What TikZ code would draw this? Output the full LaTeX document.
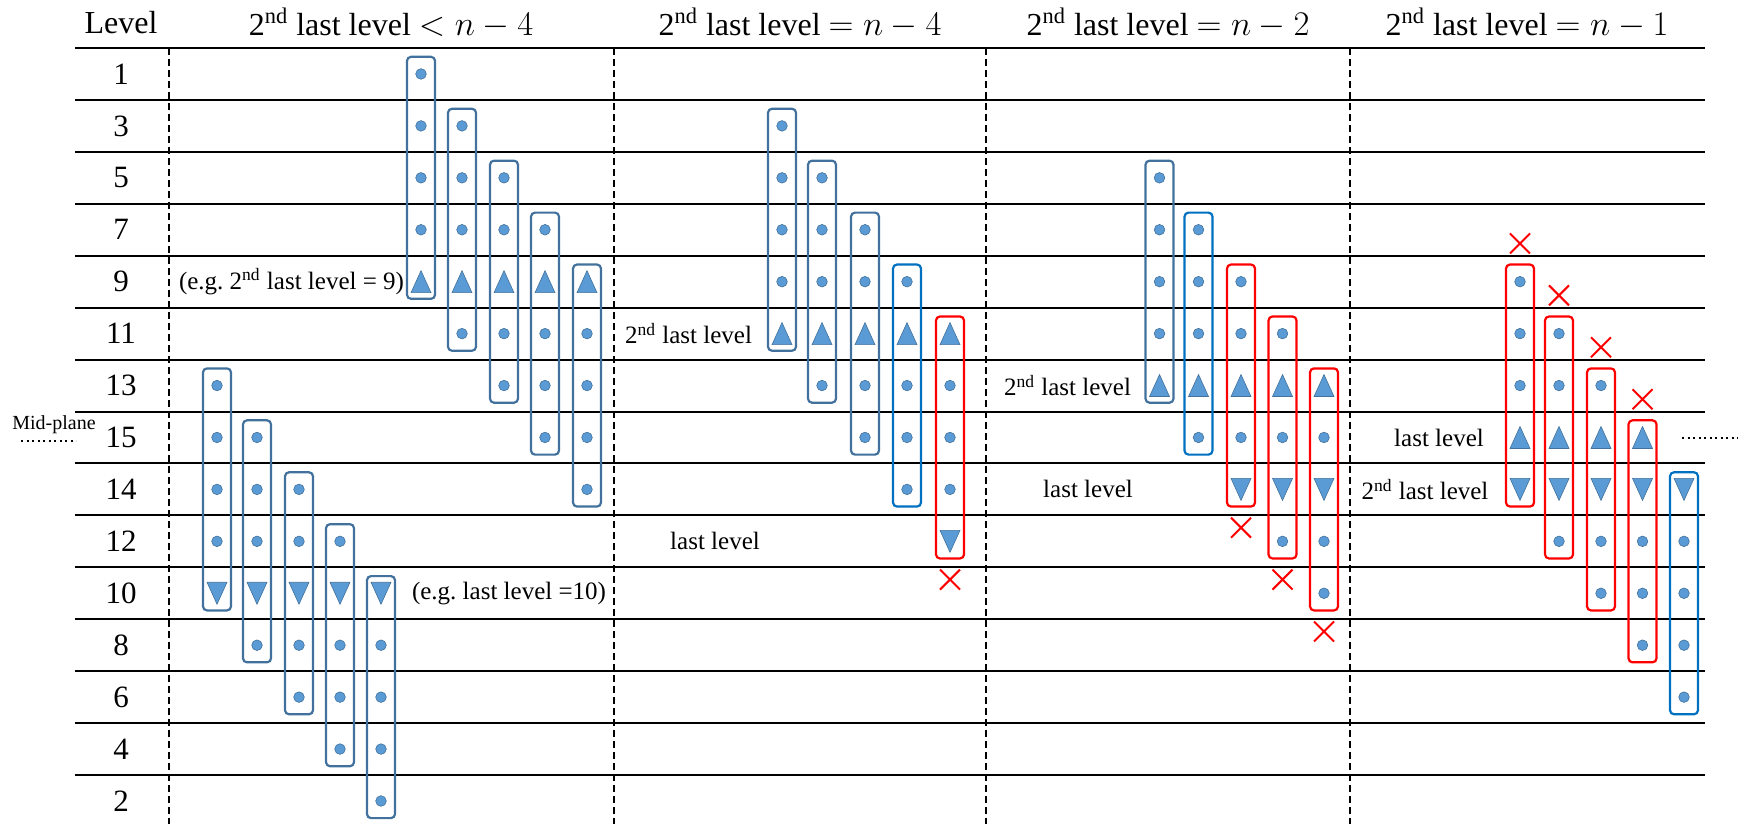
\documentclass[tikz,border=0pt]{standalone}
\usepackage{fontspec}
\setmainfont{Liberation Serif}
\frenchspacing

\definecolor{markfill}{HTML}{5B9BD5}
\definecolor{markline}{HTML}{41719C}
\definecolor{boxdark}{HTML}{41719C}
\definecolor{boxbright}{HTML}{0070C0}
\definecolor{boxred}{HTML}{FF0000}

\tikzset{
  rule/.style={line width=1pt, black},
  divider/.style={line width=0.8pt, black, dash pattern=on 3.5pt off 2pt},
  midline/.style={line width=1pt, black, dash pattern=on 1pt off 1.75pt},
  colbox/.style={draw, rounded corners=2pt, line width=1.1pt,
    minimum width=14pt, minimum height=121pt, inner sep=0pt},
  headtext/.style={font=\fontsize{16}{19}\selectfont},
  lvltext/.style={font=\fontsize{15.5}{18}\selectfont},
  notetext/.style={font=\fontsize{12.5}{15}\selectfont},
  smalltext/.style={font=\fontsize{10}{12}\selectfont},
  dotmark/.pic={\filldraw[fill=markfill, draw=markline, line width=0.3pt] (0,0) circle[radius=2.65pt];},
  upmark/.pic={\filldraw[fill=markfill, draw=markline, line width=0.3pt] (-10,11) -- (10,11) -- (0,-11) -- cycle;},
  downmark/.pic={\filldraw[fill=markfill, draw=markline, line width=0.3pt] (-10,-11) -- (10,-11) -- (0,11) -- cycle;},
  crossmark/.pic={\draw[boxred, line width=1pt] (-10,-10) -- (10,10) (-10,10) -- (10,-10);},
}

% row centre of the level row with index #1 (0 = top)
\newcommand\rowy[1]{48+51.93*(#1+0.5)}

% one stack of five levels: name, x, first row, box colour, markers (0 dot, 1 up, 2 down)
\newcommand\levelstack[5]{%
  \node[colbox, draw=#4] (#1) at (#2, {\rowy{#3+2}}) {};
  \foreach \m [count=\k from 0] in {#5} {
    \ifcase\m
      \pic at (#2, {\rowy{#3+\k}}) {dotmark};
    \or
      \pic at (#2, {\rowy{#3+\k}}) {upmark};
    \or
      \pic at (#2, {\rowy{#3+\k}}) {downmark};
    \fi
  }%
}

\begin{document}
\begin{tikzpicture}[x=0.5pt, y=-0.5pt]
\useasboundingbox (0,0) rectangle (1740,824);

% table rules and section dividers
\foreach \i in {0,...,14}
  \draw[rule] (75, {48+51.93*\i}) -- (1705, {48+51.93*\i});
\foreach \x in {169,614,986,1350}
  \draw[divider] (\x,48) -- (\x,824);

% header row
\node[headtext] (levelhead) at (121,23) {Level};
\node[headtext] (head1) at (391,23) {2\textsuperscript{nd} last level $< n - 4$};
\node[headtext] (head2) at (800,23) {2\textsuperscript{nd} last level $= n - 4$};
\node[headtext] (head3) at (1168,23) {2\textsuperscript{nd} last level $= n - 2$};
\node[headtext] (head4) at (1527,23) {2\textsuperscript{nd} last level $= n - 1$};

% level numbers
\foreach \lv [count=\i from 0] in {1,3,5,7,9,11,13,15,14,12,10,8,6,4,2}
  \node[lvltext] (lv\lv) at (121, {\rowy{\i}}) {\lv};

% mid-plane marks
\node[smalltext] (midplane) at (54,425) {Mid-plane};
\coordinate (midL1) at (21,441);
\coordinate (midL2) at (76,441);
\draw[midline] (midL1) -- (midL2);
\coordinate (midR1) at (1682,438);
\coordinate (midR2) at (1738,438);
\draw[midline] (midR1) -- (midR2);

% section 1: 2nd last level < n-4
\levelstack{s1a}{421}{0}{boxdark}{0,0,0,0,1}
\levelstack{s1b}{462}{1}{boxdark}{0,0,0,1,0}
\levelstack{s1c}{504}{2}{boxdark}{0,0,1,0,0}
\levelstack{s1d}{545}{3}{boxdark}{0,1,0,0,0}
\levelstack{s1e}{587}{4}{boxdark}{1,0,0,0,0}
\levelstack{s1f}{217}{6}{boxdark}{0,0,0,0,2}
\levelstack{s1g}{257}{7}{boxdark}{0,0,0,2,0}
\levelstack{s1h}{299}{8}{boxdark}{0,0,2,0,0}
\levelstack{s1i}{340}{9}{boxdark}{0,2,0,0,0}
\levelstack{s1j}{381}{10}{boxdark}{2,0,0,0,0}
\node[notetext, anchor=west] (eg1) at (172, {\rowy{4}}) {(e.g. 2\textsuperscript{nd} last level = 9)};
\node[notetext, anchor=west] (eg2) at (405, {\rowy{10}}) {(e.g. last level =10)};

% section 2: 2nd last level = n-4
\levelstack{s2a}{782}{1}{boxdark}{0,0,0,0,1}
\levelstack{s2b}{822}{2}{boxdark}{0,0,0,1,0}
\levelstack{s2c}{865}{3}{boxdark}{0,0,1,0,0}
\levelstack{s2d}{907}{4}{boxbright}{0,1,0,0,0}
\levelstack{s2e}{950}{5}{boxred}{1,0,0,0,2}
\pic at ([yshift=-10pt]s2e.south) {crossmark};
\node[notetext, anchor=east] (sl2) at (759, {\rowy{5}}) {2\textsuperscript{nd} last level};
\node[notetext] (ll2) at (715, {\rowy{9}}) {last level};

% section 3: 2nd last level = n-2
\levelstack{s3a}{1159.5}{2}{boxdark}{0,0,0,0,1}
\levelstack{s3b}{1198.5}{3}{boxbright}{0,0,0,1,0}
\levelstack{s3c}{1241}{4}{boxred}{0,0,1,0,2}
\levelstack{s3d}{1282.5}{5}{boxred}{0,1,0,2,0}
\levelstack{s3e}{1324}{6}{boxred}{1,0,2,0,0}
\pic at ([yshift=-10pt]s3c.south) {crossmark};
\pic at ([yshift=-10pt]s3d.south) {crossmark};
\pic at ([yshift=-10pt]s3e.south) {crossmark};
\node[notetext, anchor=east] (sl3) at (1138, {\rowy{6}}) {2\textsuperscript{nd} last level};
\node[notetext] (ll3) at (1088, {\rowy{8}}) {last level};

% section 4: 2nd last level = n-1
\levelstack{s4a}{1520}{4}{boxred}{0,0,0,1,2}
\levelstack{s4b}{1559}{5}{boxred}{0,0,1,2,0}
\levelstack{s4c}{1601}{6}{boxred}{0,1,2,0,0}
\levelstack{s4d}{1642.5}{7}{boxred}{1,2,0,0,0}
\levelstack{s4e}{1684}{8}{boxbright}{2,0,0,0,0}
\pic at ([yshift=10pt]s4a.north) {crossmark};
\pic at ([yshift=10pt]s4b.north) {crossmark};
\pic at ([yshift=10pt]s4c.north) {crossmark};
\pic at ([yshift=10pt]s4d.north) {crossmark};
\node[notetext] (ll4) at (1439, {\rowy{7}}) {last level};
\node[notetext] (sl4) at (1425, {\rowy{8}}) {2\textsuperscript{nd} last level};
\end{tikzpicture}
\end{document}
